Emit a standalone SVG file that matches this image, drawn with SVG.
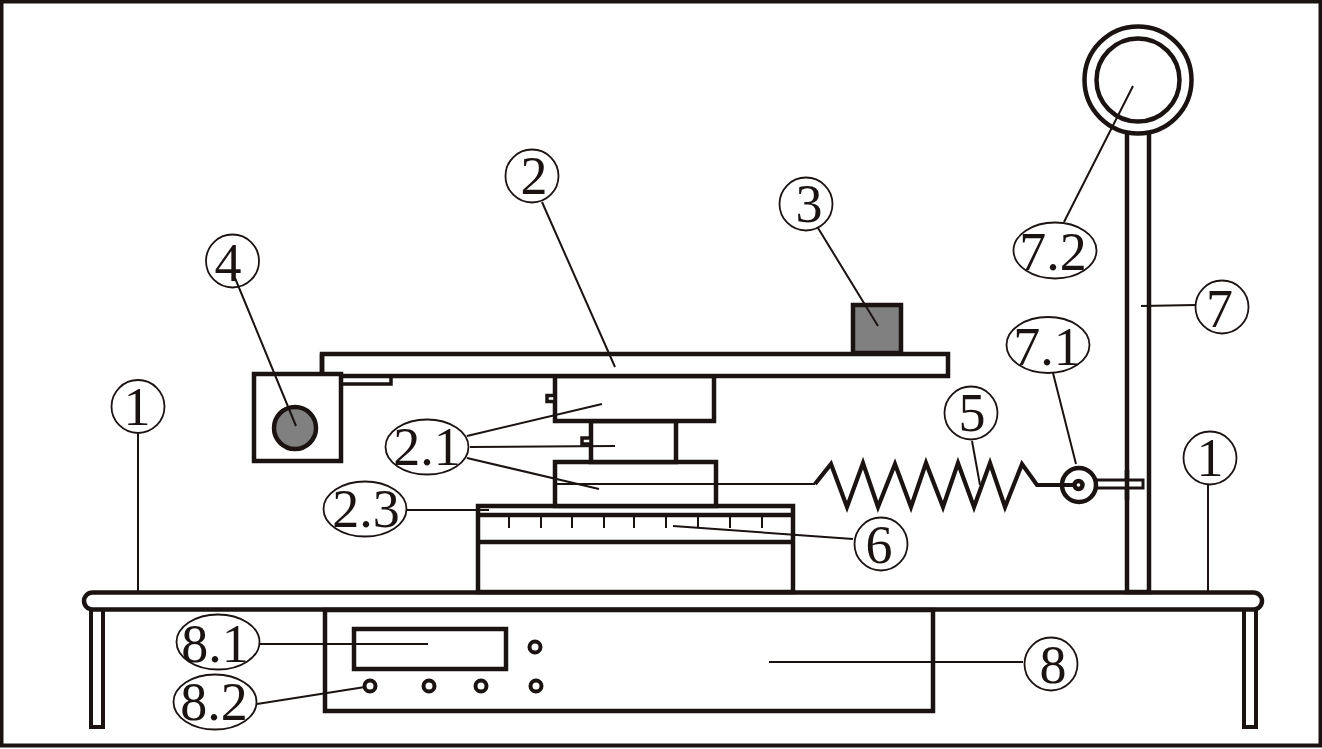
<svg xmlns="http://www.w3.org/2000/svg" width="1322" height="749" viewBox="0 0 1322 749">
<style>
.p{fill:none;stroke:#1a1311;stroke-width:4.5}
.w{fill:#fff;stroke:#1a1311;stroke-width:4.5}
.g{fill:#808080;stroke:#1a1311;stroke-width:4.5}
.m{fill:#fff;stroke:#1a1311;stroke-width:4}
.l{fill:none;stroke:#1a1311;stroke-width:2}
.c{fill:none;stroke:#1a1311;stroke-width:1.8}
.t{font-family:"Liberation Serif","Times New Roman",serif;font-size:54px;fill:#1a1311;text-anchor:middle}
</style>
<rect width="1322" height="749" fill="#fff"/>
<rect id="frame" x="1.5" y="1.5" width="1319" height="744" class="m" style="fill:none"/>
<g id="table">
<rect x="91" y="605" width="12" height="122" class="m"/>
<rect x="1244" y="605" width="12" height="122" class="m"/>
<rect x="84" y="592.500" width="1178" height="17" rx="8.500" class="w"/>
</g>
<g id="unit-8">
<rect x="325" y="610" width="608" height="101" class="w"/>
<rect x="354" y="629" width="152" height="40" class="p"/>
<circle cx="535" cy="647" r="5.500" class="m"/>
<circle cx="370" cy="686" r="5.500" class="m"/>
<circle cx="429" cy="686" r="5.500" class="m"/>
<circle cx="481" cy="686" r="5.500" class="m"/>
<circle cx="536" cy="686" r="5.500" class="m"/>
</g>
<g id="base-6">
<rect x="478" y="506" width="315" height="86" class="w"/>
<path d="M478 515H793M478 542H793" class="p"/>
<path d="M509 515v13M541 515v13M572 515v13M604 515v13M634 515v13M666 515v13M698 515v13M730 515v13M762 515v13" class="l"/>
</g>
<g id="stage-2">
<rect x="555" y="462" width="161" height="44" class="w"/>
<rect x="591" y="421" width="85" height="41" class="w"/>
<rect x="555" y="376" width="159" height="45" class="w"/>
<rect x="547" y="395.500" width="8" height="6" fill="#fff" stroke="#1a1311" stroke-width="3.500"/>
<rect x="582" y="438" width="9" height="6" fill="#fff" stroke="#1a1311" stroke-width="3.500"/>
<rect x="341" y="376" width="50" height="8" class="m" style="stroke-width:3.500"/>
<rect x="322" y="354" width="626" height="22" class="w"/>
</g>
<g id="sensor-4">
<rect x="254" y="374" width="87" height="87" class="p" style="fill:#fff"/>
<circle cx="295" cy="428" r="21" class="g"/>
<path d="M322 354v22" class="p"/>
</g>
<g id="block-3"><rect x="853" y="305" width="48" height="48" class="g"/></g>
<g id="stand-7">
<rect x="1127" y="130" width="22" height="462" class="w"/>
<circle cx="1138" cy="80" r="53.500" class="w"/>
<circle cx="1138" cy="80" r="41.500" class="p"/>
<rect x="1096" y="480" width="47" height="8" class="m" style="stroke-width:3"/>
<path d="M1127 470v30" class="p"/>
<circle cx="1079" cy="485" r="17" class="w"/>
</g>
<g id="spring-5"><path d="M815 484L831 464L847 507L863 463L878 507L895 464L911 507L926 463L943 507L958 463L974 507L990 463L1005 507L1022 464L1037 485H1078" fill="none" stroke="#1a1311" stroke-width="4.200"/><circle cx="1078.500" cy="485" r="4" fill="#fff" stroke="#1a1311" stroke-width="4.500"/></g>
<g id="connectors">
<path class="l" d="M138 433V592M1208 484V592M542 202L615 367M818 228L878 326M235 278L296 426"/>
<path class="l" d="M467 436L602 404M470 447L615 446M467 458L599 489M407 510L489 510M555 484H815M673 526L853 539"/>
<path class="l" d="M972 441L980 485M1053 373L1076 464M1064 222L1133 86M1141 306L1195 305M769 662H1023M260 644H428M257 704L365 687"/>
</g>
<g id="label-1a"><circle cx="138" cy="406.500" r="26.500" class="c"/><text x="137" y="425" class="t">1</text></g>
<g id="label-1b"><circle cx="1210" cy="458" r="26.500" class="c"/><text x="1210" y="476" class="t">1</text></g>
<g id="label-2"><circle cx="532" cy="176" r="26.500" class="c"/><text x="534" y="194" class="t">2</text></g>
<g id="label-3"><circle cx="806" cy="204" r="26.500" class="c"/><text x="809" y="222" class="t">3</text></g>
<g id="label-4"><circle cx="232.500" cy="261" r="26.500" class="c"/><text x="228" y="281" class="t">4</text></g>
<g id="label-5"><circle cx="971" cy="413" r="26.500" class="c"/><text x="972" y="431" class="t">5</text></g>
<g id="label-6"><circle cx="881" cy="544" r="26.500" class="c"/><text x="879" y="563" class="t">6</text></g>
<g id="label-7"><circle cx="1222" cy="307" r="26.500" class="c"/><text x="1219.500" y="327" class="t">7</text></g>
<g id="label-8"><circle cx="1051" cy="664" r="26.500" class="c"/><text x="1053" y="683" class="t">8</text></g>
<g id="label-2-1"><ellipse cx="427" cy="447" rx="41.500" ry="27.500" class="c"/><text x="427" y="465" class="t">2.1</text></g>
<g id="label-2-3"><ellipse cx="365" cy="509" rx="41.500" ry="27.500" class="c"/><text x="366" y="527" class="t">2.3</text></g>
<g id="label-7-1"><ellipse cx="1048" cy="345" rx="41.500" ry="28" class="c"/><text x="1047" y="365" class="t">7.1</text></g>
<g id="label-7-2"><ellipse cx="1055" cy="250.500" rx="41.500" ry="28" class="c"/><text x="1053" y="270" class="t">7.2</text></g>
<g id="label-8-1"><ellipse cx="218" cy="642" rx="41.500" ry="27.500" class="c"/><text x="215" y="662" class="t">8.1</text></g>
<g id="label-8-2"><ellipse cx="215" cy="702" rx="41.500" ry="27.500" class="c"/><text x="214" y="720" class="t">8.2</text></g>
</svg>
